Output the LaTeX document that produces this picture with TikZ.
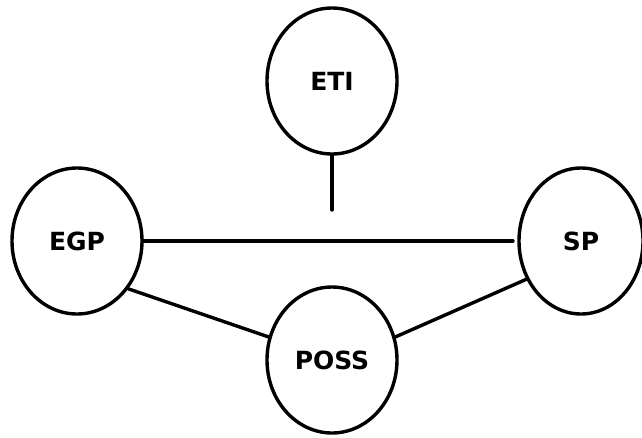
\documentclass[tikz,border=0pt]{standalone}
\usepackage{fontspec}
\setmainfont{DejaVu Sans}
\usetikzlibrary{shapes.geometric}

\tikzset{
  bubble/.style={ellipse,draw,line width=3.4pt,minimum width=130pt,minimum height=146pt,
    inner sep=0pt,font=\fontsize{25}{25}\selectfont\bfseries},
  link/.style={-,line width=3.4pt,line cap=round}
}

\begin{document}
\begin{tikzpicture}[x=1pt,y=-1pt]
\useasboundingbox (0,0) rectangle (642,437);
\node[bubble] (eti) at (332,81) {ETI};
\node[bubble] (egp) at (77,241) {EGP};
\node[bubble,minimum width=124pt] (sp) at (581,241) {SP};
\node[bubble] (poss) at (332,360) {POSS};
\coordinate (stem) at (332,210);
\coordinate (tip) at (513,241);
\draw[link] (eti.south) -- (stem);
\draw[link] (egp.east) -- (tip);
\draw[link] (egp.-43) -- (poss.160);
\draw[link] (poss.20) -- (sp.215);
\end{tikzpicture}
\end{document}
